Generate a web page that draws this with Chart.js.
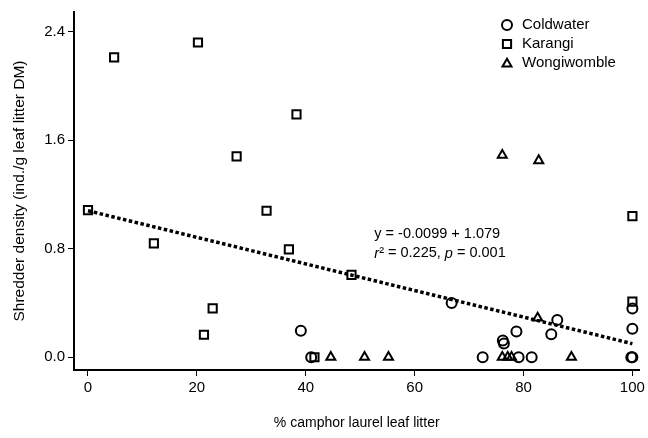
<!DOCTYPE html>
<html>
<head>
<meta charset="utf-8">
<script src="https://cdn.jsdelivr.net/npm/chart.js@4"></script>
<style>
  html, body { margin: 0; padding: 0; background: #fff; }
  #wrap { width: 648px; height: 438px; }
</style>
</head>
<body>
<div id="wrap"><canvas id="shredderChart" width="648" height="438"></canvas></div>
<script>
// % camphor laurel leaf litter vs shredder density
const coldwaterX = [39.1, 41.0, 66.8, 72.5, 76.2, 76.4, 78.7, 79.1, 81.5, 85.1, 86.2, 100, 100, 99.8, 100];
const coldwaterY = [0.195, 0.0, 0.40, 0.0, 0.123, 0.101, 0.19, 0.0, 0.0, 0.17, 0.275, 0.36, 0.21, 0.0, 0.0];

const karangiX = [0, 4.8, 20.2, 12.1, 27.3, 32.8, 38.3, 36.9, 21.3, 22.9, 41.6, 48.4, 100, 100];
const karangiY = [1.085, 2.21, 2.32, 0.84, 1.48, 1.08, 1.79, 0.795, 0.166, 0.36, 0.0, 0.607, 1.04, 0.41];

const wongiX = [44.6, 50.8, 55.2, 76.1, 82.8, 82.6, 76.1, 77.1, 77.8, 88.8];
const wongiY = [0.0, 0.0, 0.0, 1.49, 1.45, 0.29, 0.0, 0.0, 0.0, 0.0];

// fitted regression line end points
const trendX = [0, 100];
const trendY = [1.08, 0.10];

const xTicks = [0, 20, 40, 60, 80, 100];
const yTicks = [0.0, 0.8, 1.6, 2.4];

const seriesNames = ["Coldwater", "Karangi", "Wongiwomble"];
const eqLine1 = "y = -0.0099 + 1.079";

const FONT = "'Liberation Sans', Arial, sans-serif";

function toPoints(xs, ys) {
  return xs.map((x, i) => ({ x: x, y: ys[i] }));
}

// legend and regression text drawn inside the plot
const extrasPlugin = {
  id: "extras",
  afterDraw(chart) {
    const ctx = chart.ctx;
    const xs = chart.scales.x, ys = chart.scales.y;
    ctx.save();
    ctx.strokeStyle = "#000";
    ctx.textBaseline = "middle";
    ctx.textAlign = "left";

    // legend
    const styles = [
      { pointStyle: "circle", radius: 5 },
      { pointStyle: "rect", radius: 5.8 },
      { pointStyle: "triangle", radius: 5.2 }
    ];
    seriesNames.forEach((name, i) => {
      const y = 25 + i * 19;
      ctx.lineWidth = 2;
      ctx.fillStyle = "rgba(0,0,0,0)";
      Chart.helpers.drawPoint(ctx, Object.assign({ borderWidth: 2, rotation: 0 }, styles[i]), 507, i === 2 ? y + 1 : y);
      ctx.fillStyle = "#000";
      ctx.font = "15px " + FONT;
      ctx.fillText(name, 522, y);
    });

    // regression text
    const tx = xs.getPixelForValue(52.6);
    const ty = ys.getPixelForValue(0.905);
    ctx.font = "14.5px " + FONT;
    ctx.fillText(eqLine1, tx, ty);
    const parts = [
      ["r", true], ["\u00B2 = 0.225, ", false], ["p", true], [" = 0.001", false]
    ];
    let cx = tx;
    parts.forEach(([t, it]) => {
      ctx.font = (it ? "italic " : "") + "14.5px " + FONT;
      ctx.fillText(t, cx, ty + 19);
      cx += ctx.measureText(t).width;
    });
    ctx.restore();
  }
};

const markerBase = {
  type: "scatter",
  backgroundColor: "rgba(0,0,0,0)",
  borderColor: "#000",
  pointBorderWidth: 2,
  pointHoverRadius: 5
};

new Chart(document.getElementById("shredderChart").getContext("2d"), {
  type: "scatter",
  data: {
    datasets: [
      Object.assign({}, markerBase, {
        label: seriesNames[0],
        data: toPoints(coldwaterX, coldwaterY),
        pointStyle: "circle",
        pointRadius: 5
      }),
      Object.assign({}, markerBase, {
        label: seriesNames[1],
        data: toPoints(karangiX, karangiY),
        pointStyle: "rect",
        pointRadius: 5.8
      }),
      Object.assign({}, markerBase, {
        label: seriesNames[2],
        data: toPoints(wongiX, wongiY),
        pointStyle: "triangle",
        pointRadius: 5.2
      }),
      {
        type: "line",
        label: "trend",
        data: toPoints(trendX, trendY),
        borderColor: "#000",
        borderWidth: 3.5,
        borderDash: [3.5, 2.5],
        pointRadius: 0,
        fill: false
      }
    ]
  },
  options: {
    responsive: false,
    animation: false,
    layout: { padding: { left: 10, top: 5, right: 8, bottom: 6 } },
    plugins: {
      legend: { display: false },
      tooltip: { enabled: false }
    },
    scales: {
      x: {
        type: "linear",
        min: -2.57,
        max: 101.3,
        afterFit: s => { s.height = 62; },
        afterBuildTicks: s => { s.ticks = xTicks.map(v => ({ value: v })); },
        grid: { drawOnChartArea: false, drawTicks: true, tickLength: 6, tickColor: "#000", tickWidth: 1 },
        border: { display: true, color: "#000", width: 2 },
        ticks: { color: "#000", font: { family: FONT, size: 15 }, padding: 3, maxRotation: 0 },
        title: { display: true, text: "% camphor laurel leaf litter", color: "#000", font: { family: FONT, size: 14 }, padding: 0 }
      },
      y: {
        type: "linear",
        min: -0.094,
        max: 2.545,
        afterFit: s => { s.width = 64; },
        afterBuildTicks: s => { s.ticks = yTicks.map(v => ({ value: v })); },
        grid: { drawOnChartArea: false, drawTicks: true, tickLength: 6, tickColor: "#000", tickWidth: 1 },
        border: { display: true, color: "#000", width: 2 },
        ticks: { color: "#000", font: { family: FONT, size: 15 }, padding: 3, callback: v => Number(v).toFixed(1) },
        title: { display: true, text: "Shredder density (ind./g leaf litter DM)", color: "#000", font: { family: FONT, size: 15.5 }, padding: 0 }
      }
    }
  },
  plugins: [extrasPlugin]
});
</script>
</body>
</html>
